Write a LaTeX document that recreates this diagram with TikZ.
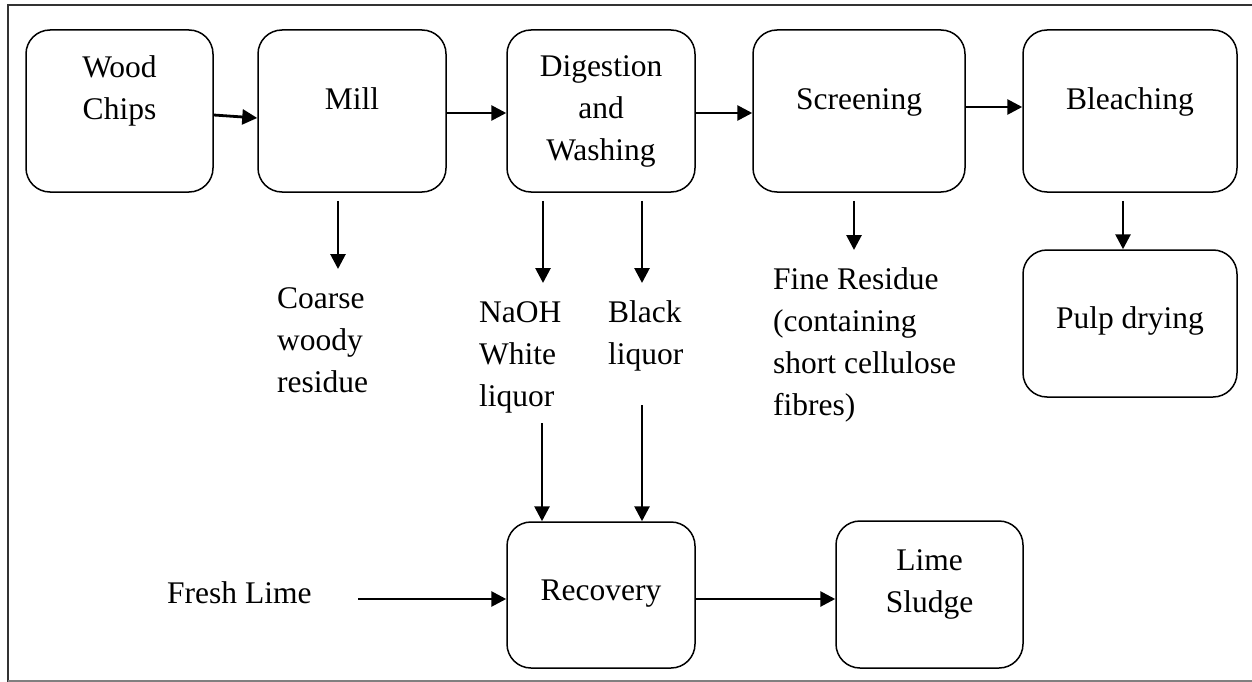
\documentclass[tikz,border=0pt]{standalone}
\usepackage{fontspec}
\setmainfont{Liberation Serif}
\usetikzlibrary{arrows.meta}
\begin{document}
\begin{tikzpicture}[x=1pt,y=-1pt,
  box/.style={draw,rectangle,rounded corners=24pt,line width=1.5pt,inner sep=0pt},
  txt/.style={font=\fontsize{31.5}{42}\selectfont,inner sep=0pt,align=center,anchor=base},
  ltxt/.style={font=\fontsize{31.5}{42}\selectfont,inner sep=0pt,align=left,anchor=base west},
  flow/.style={line width=2.8pt,-{Triangle[length=15pt,width=15pt]}}]
\useasboundingbox (0,0) rectangle (1252,682);
% frame
\draw[line width=2pt,black!80] (8,682) -- (8,5) -- (1252,5);
\draw[line width=2pt,black!50] (8,681) -- (1252,681);
% boxes
\node[box,minimum width=187pt,minimum height=162pt] (wood) at (119.5,111) {};
\node[box,minimum width=188pt,minimum height=162pt] (mill) at (352,111) {};
\node[box,minimum width=188pt,minimum height=162pt] (dig) at (601,111) {};
\node[box,minimum width=212pt,minimum height=162pt] (scr) at (859,111) {};
\node[box,minimum width=214pt,minimum height=162pt] (bl) at (1130,111) {};
\node[box,minimum width=214pt,minimum height=147pt] (pulp) at (1130,323.5) {};
\node[box,minimum width=188pt,minimum height=146pt] (rec) at (601,595) {};
\node[box,minimum width=187pt,minimum height=147pt] (lime) at (929.5,594.5) {};
% box texts
\node[txt] (woodT) at (119.5,120) {Wood\\Chips};
\node[txt] (millT) at (352,110) {Mill};
\node[txt] (digT) at (601,160) {Digestion\\and\\Washing};
\node[txt] (scrT) at (859,110) {Screening};
\node[txt] (blT) at (1130,110) {Bleaching};
\node[txt] (pulpT) at (1130,328) {Pulp drying};
\node[txt] (recT) at (601,600) {Recovery};
\node[txt] (limeT) at (929.5,612) {Lime\\Sludge};
% free texts
\node[ltxt] (coarse) at (277,392) {Coarse\\woody\\residue};
\node[ltxt] (naoh) at (479,406) {NaOH\\White\\liquor};
\node[ltxt] (black) at (608,364) {Black\\liquor};
\node[ltxt] (fine) at (773,415) {Fine Residue\\(containing\\short cellulose\\fibres)};
\node[ltxt] (fresh) at (167,603) {Fresh Lime};
% free arrow ends
\coordinate (coarseIn) at (338,269);
\coordinate (naohIn) at (543,283);
\coordinate (blackIn) at (642,283);
\coordinate (fineIn) at (854,250);
\coordinate (naohOut) at (542,423);
\coordinate (blackOut) at (642,405);
\coordinate (freshOut) at (358,599);
% connectors
\draw[flow] ([yshift=-4pt]wood.east) -- ([yshift=-7pt]mill.west);
\draw[flow] ([yshift=-2pt]mill.east) -- ([yshift=-2pt]dig.west);
\draw[flow] ([yshift=-2pt]dig.east) -- ([yshift=-2pt]scr.west);
\draw[flow] ([yshift=4pt]scr.east) -- ([yshift=4pt]bl.west);
\draw[flow] ([xshift=-14pt,yshift=-8pt]mill.south) -- (coarseIn);
\draw[flow] ([xshift=-58pt,yshift=-8pt]dig.south) -- (naohIn);
\draw[flow] ([xshift=41pt,yshift=-8pt]dig.south) -- (blackIn);
\draw[flow] ([xshift=-5pt,yshift=-8pt]scr.south) -- (fineIn);
\draw[flow] ([xshift=-7pt,yshift=-8pt]bl.south) -- ([xshift=-7pt]pulp.north);
\draw[flow] (naohOut) -- ([xshift=-59pt]rec.north);
\draw[flow] (blackOut) -- ([xshift=41pt]rec.north);
\draw[flow] (freshOut) -- ([yshift=-4pt]rec.west);
\draw[flow] ([yshift=-4pt]rec.east) -- ([yshift=-4.5pt]lime.west);
\end{tikzpicture}
\end{document}
